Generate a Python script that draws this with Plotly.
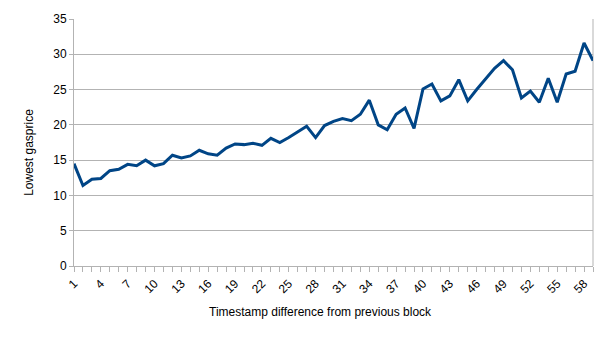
import plotly.graph_objects as go

timestamp_diff = list(range(1, 60))
lowest_gasprice = [
    14.5, 11.4, 12.3, 12.4, 13.5, 13.7, 14.4, 14.2, 15.0, 14.2,
    14.5, 15.7, 15.3, 15.6, 16.4, 15.9, 15.7, 16.7, 17.3, 17.2,
    17.4, 17.1, 18.1, 17.5, 18.2, 19.0, 19.8, 18.2, 19.9, 20.5,
    20.9, 20.6, 21.5, 23.5, 20.0, 19.3, 21.5, 22.4, 19.5, 25.1,
    25.8, 23.4, 24.1, 26.4, 23.4, 25.0, 26.5, 28.0, 29.1, 27.8,
    23.8, 24.8, 23.2, 26.6, 23.2, 27.2, 27.6, 31.6, 29.1,
]

x_title = "Timestamp difference from previous block"
y_title = "Lowest gasprice"

W, H = 605, 340
L, R, T, B = 74, 12, 15, 74
pw, ph = W - L - R, H - T - B

fig = go.Figure()
fig.add_trace(go.Scatter(
    x=timestamp_diff, y=lowest_gasprice, mode="lines",
    line=dict(color="#004586", width=3),
    hoverinfo="skip", showlegend=False,
))

grid = "#b3b3b3"
fig.update_layout(
    width=W, height=H,
    margin=dict(l=L, r=R, t=T, b=B),
    paper_bgcolor="white", plot_bgcolor="white",
    font=dict(family="Liberation Sans, Arial, sans-serif", size=12, color="#000000"),
    xaxis=dict(
        range=[1, 59], tick0=1, dtick=3, tickangle=-45,
        showgrid=False, zeroline=False,
        showline=True, linecolor=grid, linewidth=1,
        ticks="outside", ticklen=5, tickcolor=grid, tickwidth=1,
        minor=dict(dtick=1, tick0=1, ticks="outside", ticklen=5, tickcolor=grid, showgrid=False),
    ),
    yaxis=dict(
        range=[0, 35], tick0=0, dtick=5,
        showgrid=True, gridcolor=grid, gridwidth=1, zeroline=False,
        showline=True, linecolor=grid, linewidth=1,
        ticks="outside", ticklen=4, tickcolor=grid, tickwidth=1,
    ),
    shapes=[dict(type="line", xref="paper", yref="paper", x0=1, x1=1, y0=0, y1=1,
                 line=dict(color=grid, width=1), layer="below")],
    annotations=[
        dict(text=x_title, xref="paper", yref="paper",
             x=(320 - L) / pw, y=-(313 - T - ph) / ph - 0.0 if False else (H - B - 313) / ph,
             xanchor="center", yanchor="middle", showarrow=False, font=dict(size=12)),
        dict(text=y_title, xref="paper", yref="paper", textangle=-90,
             x=(29 - L) / pw, y=(H - B - 151) / ph,
             xanchor="center", yanchor="middle", showarrow=False, font=dict(size=12)),
    ],
)

fig.write_html("out.html")
